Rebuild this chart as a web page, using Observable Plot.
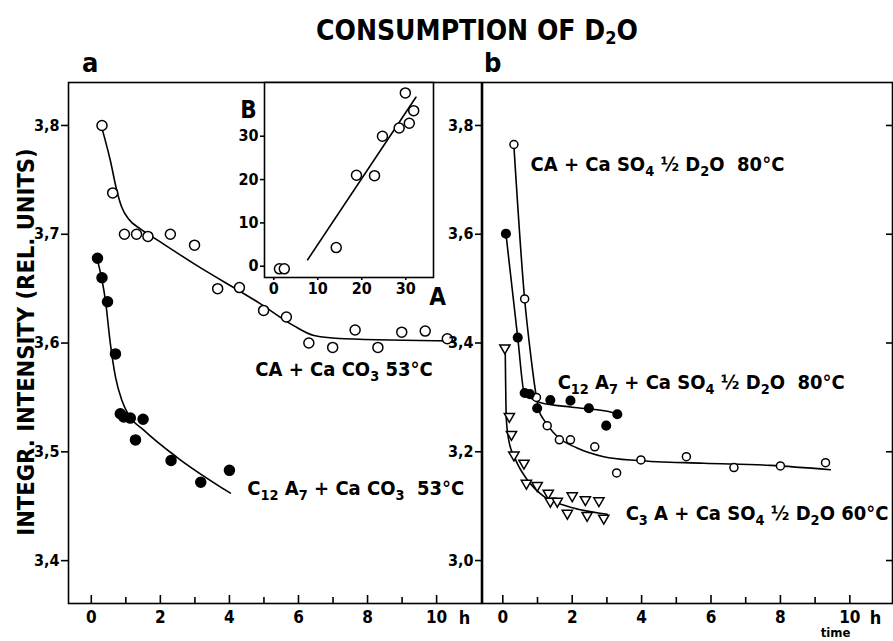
<!DOCTYPE html>
<html>
<head>
<meta charset="utf-8">
<script src="https://cdn.jsdelivr.net/npm/d3@7"></script>
<script src="https://cdn.jsdelivr.net/npm/@observablehq/plot@0.6"></script>
<style>
  body { margin: 0; background: #fff; }
  #chart { position: relative; width: 893px; height: 641px; overflow: hidden;
           font-family: 'DejaVu Sans Condensed', 'Liberation Sans Narrow', 'DejaVu Sans', sans-serif; color: #000; }
  #chart svg { position: absolute; left: 0; top: 0; }
  .hd { position: absolute; font-weight: bold; line-height: 1; white-space: nowrap; }
  #title { left: 316px; top: 17px; font-size: 28px; }
  #title sub { font-size: 18px; vertical-align: -4px; line-height: 0; }
  #pa { left: 82px; top: 49px; font-size: 27px; }
  #pb { left: 484px; top: 49px; font-size: 27px; }
</style>
</head>
<body>
<div id="chart">
  <div class="hd" id="title">CONSUMPTION OF D<sub>2</sub>O</div>
  <div class="hd" id="pa">a</div>
  <div class="hd" id="pb">b</div>
</div>
<script>
// ---------- panel a : CaCO3 mixtures at 53 °C ----------
const aCA_t = [0.31, 0.62, 0.96, 1.31, 1.64, 2.29, 2.99, 3.66, 4.29, 4.99, 5.65, 6.30, 6.99, 7.64, 8.30, 8.99, 9.67, 10.31];
const aCA_I = [3.800, 3.738, 3.700, 3.700, 3.698, 3.700, 3.690, 3.650, 3.651, 3.630, 3.624, 3.600, 3.596, 3.612, 3.596, 3.610, 3.611, 3.604];
const aCA_fit_t = [0.33, 0.55, 0.74, 0.88, 1.08, 1.42, 1.71, 2.97, 4.90, 5.86, 6.45, 7.32, 10.50];
const aCA_fit_I = [3.795, 3.768, 3.740, 3.725, 3.714, 3.705, 3.699, 3.673, 3.636, 3.616, 3.607, 3.604, 3.602];

const aC12_t = [0.18, 0.31, 0.47, 0.70, 0.84, 0.94, 1.13, 1.50, 1.28, 2.31, 3.17, 4.00];
const aC12_I = [3.678, 3.660, 3.638, 3.590, 3.535, 3.532, 3.531, 3.530, 3.511, 3.492, 3.472, 3.483];
const aC12_fit_t = [0.18, 0.31, 0.41, 0.55, 0.70, 0.89, 1.08, 1.52, 2.48, 4.03];
const aC12_fit_I = [3.676, 3.658, 3.639, 3.600, 3.569, 3.547, 3.534, 3.520, 3.495, 3.462];

// ---------- inset B vs A ----------
const insA = [1.3, 2.4, 14.2, 18.8, 22.9, 24.7, 28.5, 29.9, 30.8, 31.8];
const insB = [-0.6, -0.6, 4.3, 21.0, 20.9, 30.0, 31.9, 40.0, 33.0, 35.9];
const insFitA = [7.7, 32.3];
const insFitB = [1.5, 39.0];

// ---------- panel b : CaSO4·½D2O mixtures ----------
const bCA_t = [0.32, 0.63, 0.97, 1.28, 1.63, 1.95, 2.65, 3.28, 3.98, 5.29, 6.66, 8.00, 9.30];
const bCA_I = [3.765, 3.481, 3.300, 3.248, 3.222, 3.222, 3.209, 3.161, 3.185, 3.191, 3.171, 3.174, 3.180];
const bCA_fit_t = [0.32, 0.63, 0.80, 0.97, 1.05, 1.18, 1.57, 2.14, 2.91, 3.87, 5.79, 7.71, 9.44];
const bCA_fit_I = [3.762, 3.480, 3.380, 3.300, 3.275, 3.259, 3.228, 3.207, 3.191, 3.184, 3.179, 3.175, 3.167];

const bC12_t = [0.09, 0.43, 0.63, 0.78, 0.99, 1.37, 1.95, 2.48, 2.98, 3.30];
const bC12_I = [3.601, 3.410, 3.308, 3.306, 3.280, 3.295, 3.294, 3.280, 3.248, 3.269];
const bC12_fit_t = [0.09, 0.43, 0.63, 0.80, 1.09, 2.00, 3.05, 3.30];
const bC12_fit_I = [3.601, 3.410, 3.305, 3.299, 3.290, 3.282, 3.274, 3.269];

const bC3_t = [0.06, 0.19, 0.25, 0.32, 0.61, 0.68, 0.99, 1.31, 1.37, 1.57, 1.86, 2.00, 2.38, 2.43, 2.77, 2.91];
const bC3_I = [3.391, 3.265, 3.232, 3.194, 3.179, 3.142, 3.138, 3.124, 3.109, 3.109, 3.087, 3.119, 3.112, 3.083, 3.110, 3.078];
const bC3_fit_t = [0.07, 0.10, 0.17, 0.37, 0.70, 1.18, 1.86, 3.01];
const bC3_fit_I = [3.391, 3.262, 3.222, 3.185, 3.149, 3.118, 3.100, 3.085];

// ---------- axes ----------
const evenHours = [0, 2, 4, 6, 8, 10];
const oddHours = [1, 3, 5, 7, 9];
const aTicks = [3.4, 3.5, 3.6, 3.7, 3.8];
const bTicks = [3.0, 3.2, 3.4, 3.6, 3.8];
const insTicks = [0, 10, 20, 30];

// ---------- labels (anchored at the left end of the baseline, data units) ----------
const aLabels = [
  {t: 4.75, I: 3.5695, text: "CA + Ca CO₃ 53°C"},
  {t: 4.52, I: 3.460, text: "C₁₂ A₇ + Ca CO₃  53°C"}
];
const bLabels = [
  {t: 0.80, I: 3.717, text: "CA + Ca SO₄ ½ D₂O  80°C"},
  {t: 1.58, I: 3.316, text: "C₁₂ A₇ + Ca SO₄ ½ D₂O  80°C"},
  {t: 3.54, I: 3.075, text: "C₃ A + Ca SO₄ ½ D₂O 60°C"}
];

const rows = (t, I) => t.map((d, i) => ({t: d, I: I[i]}));
const comma = d => d.toFixed(1).replace(".", ",");

const W = 893, H = 641;
const FONT = "'DejaVu Sans Condensed', 'Liberation Sans Narrow', 'DejaVu Sans', sans-serif";
const frameOf = (l, r, t, b) => ({marginLeft: l, marginRight: W - r, marginTop: t, marginBottom: H - b});
const common = {
  width: W, height: H,
  style: {fontFamily: FONT, fontSize: "16px", fontWeight: "bold", background: "transparent", overflow: "visible", color: "#000"}
};
const SW = 1.6;
const LABEL_SIZE = 20;

function timeAxes() {
  return [
    Plot.axisX(evenHours, {anchor: "bottom", tickSize: -8, tickFormat: () => "", strokeWidth: SW, label: null}),
    Plot.axisX(oddHours, {anchor: "bottom", tickSize: -6, tickFormat: () => "", strokeWidth: SW, label: null}),
    Plot.axisX(evenHours, {anchor: "bottom", tickSize: 0, tickPadding: 7, fontSize: 17, label: null}),
    Plot.text(["h"], {frameAnchor: "bottom-right", textAnchor: "middle", dx: -17, dy: 15, fontSize: 18, lineAnchor: "middle"})
  ];
}
function labelMarks(data) {
  return Plot.text(data, {x: "t", y: "I", text: "text", textAnchor: "start", lineAnchor: "bottom", fontSize: LABEL_SIZE, fontWeight: "bold"});
}

// Turn unicode subscript digits into lowered, smaller tspans so they read like the chemical formulas.
const SUBS = "₀₁₂₃₄₅₆₇₈₉";
function formulaSubscripts(svg, shift) {
  svg.querySelectorAll("text").forEach(el => {
    const s = el.textContent;
    if (![...s].some(c => SUBS.includes(c))) return;
    const runs = s.match(/[₀-₉]+|[^₀-₉]+/g);
    el.textContent = "";
    let lowered = false;
    for (const r of runs) {
      const ts = document.createElementNS("http://www.w3.org/2000/svg", "tspan");
      if (SUBS.includes(r[0])) {
        ts.textContent = [...r].map(c => SUBS.indexOf(c)).join("");
        ts.setAttribute("font-size", "72%");
        ts.setAttribute("dy", shift);
        lowered = true;
      } else {
        ts.textContent = r;
        if (lowered) ts.setAttribute("dy", -shift);
        lowered = false;
      }
      el.appendChild(ts);
    }
  });
}

const panelA = Plot.plot({
  ...common,
  ...frameOf(68, 481, 82, 603),
  x: {domain: [-0.66, 11.30], label: null},
  y: {domain: [3.3606, 3.8395], label: null},
  marks: [
    Plot.frame({strokeWidth: SW}),
    Plot.axisY(aTicks, {anchor: "left", tickSize: 7, tickPadding: 2, tickFormat: comma, fontSize: 16, strokeWidth: SW, label: null}),
    ...timeAxes(),
    Plot.text(["INTEGR. INTENSITY (REL. UNITS)"], {frameAnchor: "left", textAnchor: "middle", rotate: -90, dx: -42, dy: -1, fontSize: 23.5, fontWeight: "bold"}),
    Plot.line(rows(aCA_fit_t, aCA_fit_I), {x: "t", y: "I", curve: "monotone-x", strokeWidth: 1.6}),
    Plot.line(rows(aC12_fit_t, aC12_fit_I), {x: "t", y: "I", curve: "monotone-x", strokeWidth: 1.6}),
    Plot.dot(rows(aCA_t, aCA_I), {x: "t", y: "I", r: 5, fill: "white", stroke: "black", strokeWidth: 1.5}),
    Plot.dot(rows(aC12_t, aC12_I), {x: "t", y: "I", r: 5, fill: "black", stroke: "black"}),
    labelMarks(aLabels)
  ]
});

const inset = Plot.plot({
  ...common,
  ...frameOf(264, 433, 82, 277),
  style: {...common.style, fontSize: "15px"},
  x: {domain: [-2.1, 36.3], label: null},
  y: {domain: [-2.6, 42.4], label: null},
  marks: [
    Plot.frame({strokeWidth: SW, fill: "white", stroke: "black"}),
    Plot.axisY(insTicks, {anchor: "left", tickSize: 4, tickPadding: 2, fontSize: 16, strokeWidth: SW, label: null}),
    Plot.axisX(insTicks, {anchor: "bottom", tickSize: 3, tickPadding: 2, fontSize: 16, strokeWidth: SW, label: null}),
    Plot.line(rows(insFitA, insFitB), {x: "t", y: "I", strokeWidth: 1.6}),
    Plot.dot(rows(insA, insB), {x: "t", y: "I", r: 5, fill: "white", stroke: "black", strokeWidth: 1.5}),
    Plot.text(["B"], {frameAnchor: "top-left", textAnchor: "middle", dx: -16, dy: 28, fontSize: 24, fontWeight: "bold", lineAnchor: "middle"}),
    Plot.text(["A"], {frameAnchor: "bottom-right", textAnchor: "middle", dx: 4, dy: 20, fontSize: 24, fontWeight: "bold", lineAnchor: "middle"})
  ]
});

const panelB = Plot.plot({
  ...common,
  ...frameOf(482, 892, 82, 603),
  x: {domain: [-0.585, 11.23], label: null},
  y: {domain: [2.921, 3.879], label: null},
  marks: [
    Plot.frame({strokeWidth: SW}),
    Plot.axisY(bTicks, {anchor: "left", tickSize: 7, tickPadding: 2, tickFormat: comma, fontSize: 16, strokeWidth: SW, label: null}),
    Plot.axisY(bTicks, {anchor: "right", tickSize: -7, tickFormat: () => "", strokeWidth: SW, label: null}),
    ...timeAxes(),
    Plot.text(["time"], {frameAnchor: "bottom-right", textAnchor: "middle", dx: -57, dy: 29, fontSize: 13, fontWeight: "bold", lineAnchor: "middle"}),
    Plot.line(rows(bCA_fit_t, bCA_fit_I), {x: "t", y: "I", curve: "monotone-x", strokeWidth: 1.6}),
    Plot.line(rows(bC12_fit_t, bC12_fit_I), {x: "t", y: "I", curve: "monotone-x", strokeWidth: 1.6}),
    Plot.line(rows(bC3_fit_t, bC3_fit_I), {x: "t", y: "I", curve: "monotone-x", strokeWidth: 1.6}),
    Plot.dot(rows(bCA_t, bCA_I), {x: "t", y: "I", r: 4, fill: "white", stroke: "black", strokeWidth: 1.5}),
    Plot.dot(rows(bC12_t, bC12_I), {x: "t", y: "I", r: 4.3, fill: "black", stroke: "black"}),
    Plot.dot(rows(bC3_t, bC3_I), {x: "t", y: "I", symbol: "triangle", rotate: 180, r: 3.8, fill: "white", stroke: "black", strokeWidth: 1.5}),
    labelMarks(bLabels)
  ]
});

formulaSubscripts(panelA, 5);
formulaSubscripts(panelB, 5);

const chart = document.getElementById("chart");
chart.prepend(panelB);
chart.prepend(inset);
chart.prepend(panelA);
</script>
</body>
</html>
